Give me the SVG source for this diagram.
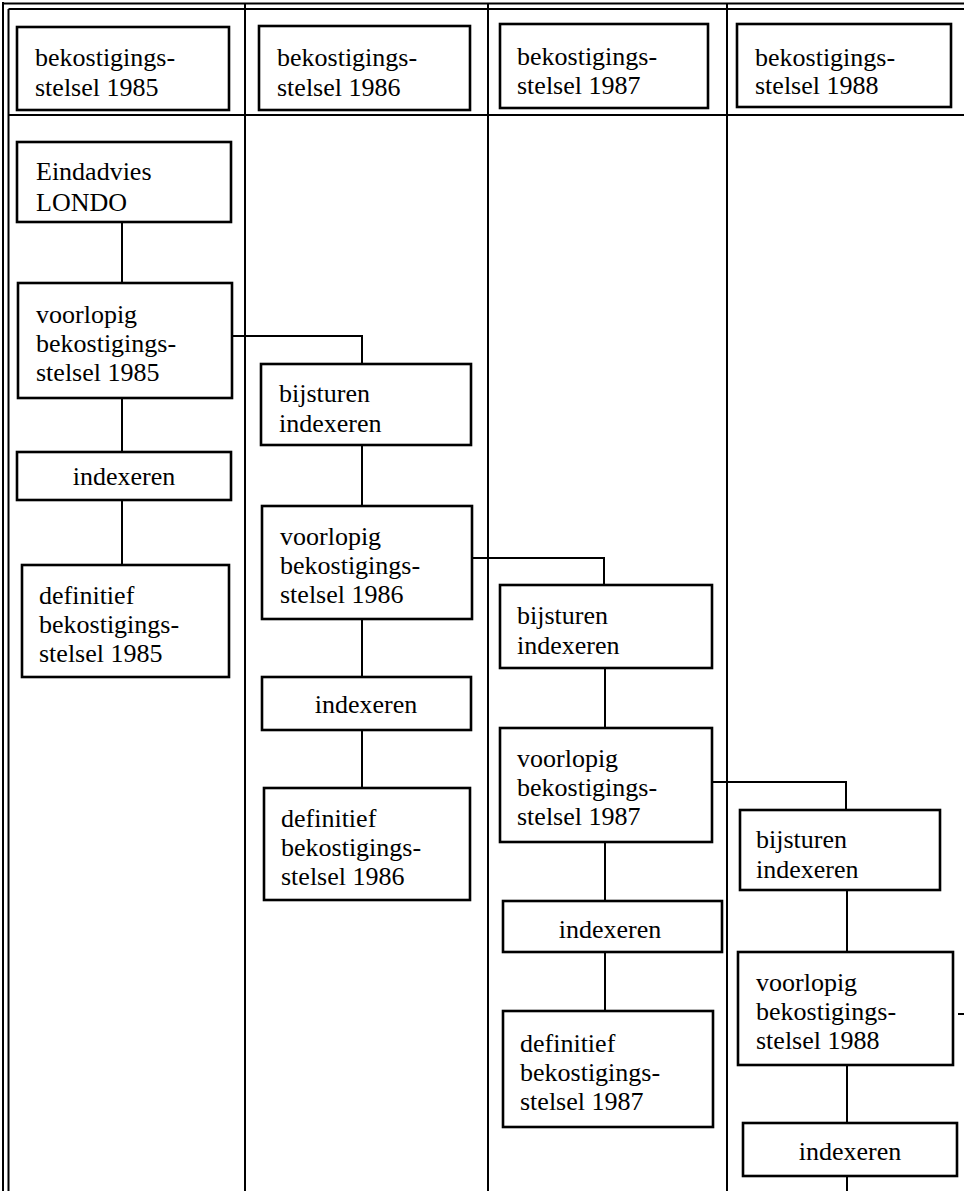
<svg xmlns="http://www.w3.org/2000/svg" width="964" height="1191" viewBox="0 0 964 1191">
<style>
.box{fill:#fff;stroke:#000;stroke-width:2.6}
.ln{fill:none;stroke:#000;stroke-width:2}
.t{font-family:"Liberation Serif","Times New Roman",serif;font-size:26px;fill:#000}
.c{text-anchor:middle}
</style>
<rect width="964" height="1191" fill="#fff"/>
<g id="frame">
<line class="ln" x1="3" y1="3.5" x2="964" y2="3.5" stroke-width="3"/>
<line class="ln" x1="8.5" y1="9" x2="964" y2="9" stroke-width="1.5"/>
<line class="ln" x1="3" y1="2" x2="3" y2="1191" stroke-width="3"/>
<line class="ln" x1="8.5" y1="9" x2="8.5" y2="1191"/>
<line class="ln" x1="8.5" y1="115" x2="964" y2="115"/>
<line class="ln" x1="245" y1="4" x2="245" y2="1191"/>
<line class="ln" x1="488" y1="4" x2="488" y2="1191"/>
<line class="ln" x1="727" y1="4" x2="727" y2="1191"/>
</g>
<g id="connectors">
<path class="ln" d="M122,222V283M122,398V452M122,500V565"/>
<path class="ln" d="M232,336H362V364"/>
<path class="ln" d="M362,445V506M362,619V677M362,730V788"/>
<path class="ln" d="M472,558H604V585"/>
<path class="ln" d="M605,668V728M605,842V901M605,952V1011"/>
<path class="ln" d="M712,782H846V810"/>
<path class="ln" d="M847,890V952M847,1065V1123M847,1176V1191"/>
<path class="ln" d="M958,1014H964"/>
</g>
<g id="h1985"><rect class="box" x="17" y="27" width="212" height="83"/><text class="t" x="35" y="66">bekostigings-</text><text class="t" x="35" y="96">stelsel 1985</text></g>
<g id="h1986"><rect class="box" x="259" y="26" width="211" height="84"/><text class="t" x="277" y="66">bekostigings-</text><text class="t" x="277" y="96">stelsel 1986</text></g>
<g id="h1987"><rect class="box" x="500" y="24" width="208" height="84"/><text class="t" x="517" y="65">bekostigings-</text><text class="t" x="517" y="94">stelsel 1987</text></g>
<g id="h1988"><rect class="box" x="737" y="24" width="214" height="83"/><text class="t" x="755" y="66">bekostigings-</text><text class="t" x="755" y="94">stelsel 1988</text></g>

<g id="eindadvies"><rect class="box" x="17" y="142" width="214" height="80"/><text class="t" x="36" y="180">Eindadvies</text><text class="t" x="36" y="211">LONDO</text></g>
<g id="voorlopig1985"><rect class="box" x="18" y="283" width="214" height="115"/><text class="t" x="36" y="323">voorlopig</text><text class="t" x="36" y="352">bekostigings-</text><text class="t" x="36" y="381">stelsel 1985</text></g>
<g id="indexeren1985"><rect class="box" x="17" y="452" width="214" height="48"/><text class="t c" x="124" y="485">indexeren</text></g>
<g id="definitief1985"><rect class="box" x="22" y="565" width="207" height="112"/><text class="t" x="39" y="604">definitief</text><text class="t" x="39" y="633">bekostigings-</text><text class="t" x="39" y="662">stelsel 1985</text></g>

<g id="bijsturen1986"><rect class="box" x="261" y="364" width="210" height="81"/><text class="t" x="279" y="402">bijsturen</text><text class="t" x="279" y="432">indexeren</text></g>
<g id="voorlopig1986"><rect class="box" x="262" y="506" width="210" height="113"/><text class="t" x="280" y="545">voorlopig</text><text class="t" x="280" y="574">bekostigings-</text><text class="t" x="280" y="603">stelsel 1986</text></g>
<g id="indexeren1986"><rect class="box" x="262" y="677" width="209" height="53"/><text class="t c" x="366" y="713">indexeren</text></g>
<g id="definitief1986"><rect class="box" x="264" y="788" width="206" height="112"/><text class="t" x="281" y="827">definitief</text><text class="t" x="281" y="856">bekostigings-</text><text class="t" x="281" y="885">stelsel 1986</text></g>

<g id="bijsturen1987"><rect class="box" x="500" y="585" width="212" height="83"/><text class="t" x="517" y="624">bijsturen</text><text class="t" x="517" y="654">indexeren</text></g>
<g id="voorlopig1987"><rect class="box" x="500" y="728" width="212" height="114"/><text class="t" x="517" y="767">voorlopig</text><text class="t" x="517" y="796">bekostigings-</text><text class="t" x="517" y="825">stelsel 1987</text></g>
<g id="indexeren1987"><rect class="box" x="503" y="901" width="219" height="51"/><text class="t c" x="610" y="938">indexeren</text></g>
<g id="definitief1987"><rect class="box" x="503" y="1011" width="210" height="116"/><text class="t" x="520" y="1052">definitief</text><text class="t" x="520" y="1081">bekostigings-</text><text class="t" x="520" y="1110">stelsel 1987</text></g>

<g id="bijsturen1988"><rect class="box" x="740" y="810" width="200" height="80"/><text class="t" x="756" y="848">bijsturen</text><text class="t" x="756" y="878">indexeren</text></g>
<g id="voorlopig1988"><rect class="box" x="738" y="952" width="215" height="113"/><text class="t" x="756" y="991">voorlopig</text><text class="t" x="756" y="1020">bekostigings-</text><text class="t" x="756" y="1049">stelsel 1988</text></g>
<g id="indexeren1988"><rect class="box" x="743" y="1123" width="214" height="53"/><text class="t c" x="850" y="1160">indexeren</text></g>
</svg>
